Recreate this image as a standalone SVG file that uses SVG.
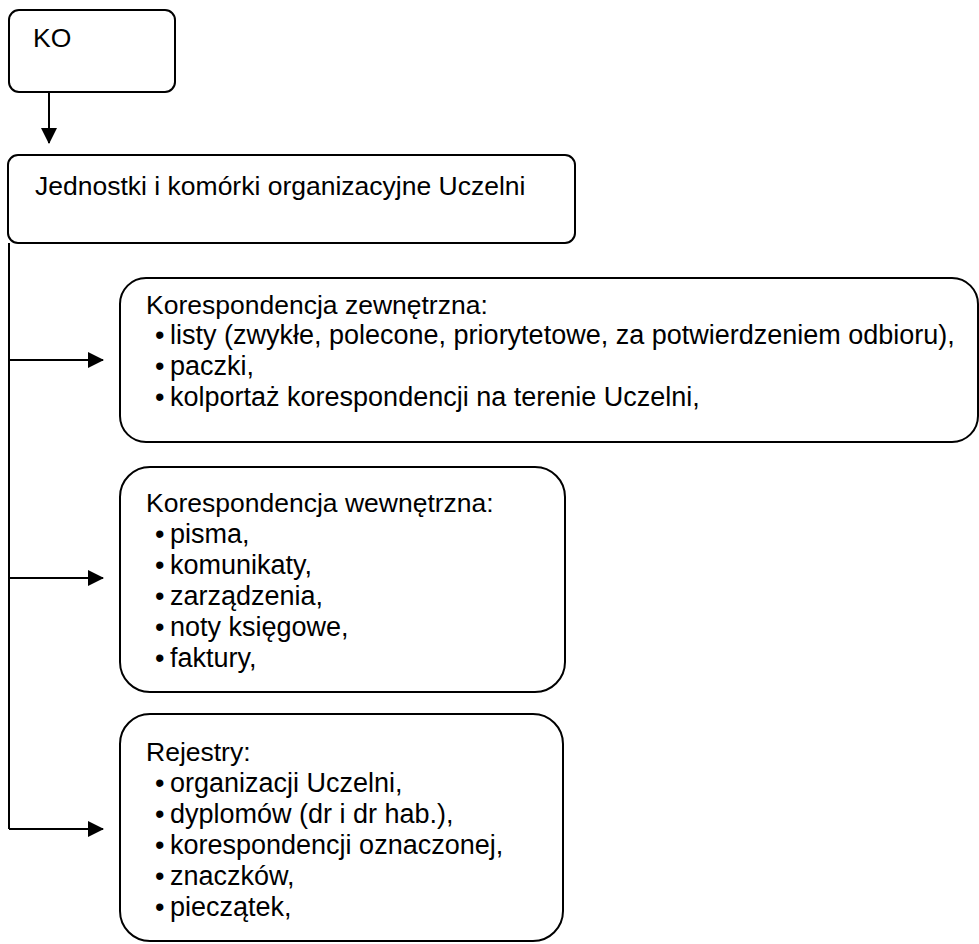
<svg xmlns="http://www.w3.org/2000/svg" width="979" height="944" viewBox="0 0 979 944">
<style>
.box{fill:#fff;stroke:#000;stroke-width:2}
.t{font-family:"Liberation Sans",Arial,sans-serif;font-size:26.5px;fill:#000}
.b{font-family:"Liberation Sans",Arial,sans-serif;font-size:27px;fill:#000}
.ln{fill:none;stroke:#000;stroke-width:2}
</style>
<defs>
<marker id="ah" markerWidth="16" markerHeight="16" refX="15" refY="8" orient="auto" markerUnits="userSpaceOnUse">
<path d="M0,0 L16,8 L0,16 Z" fill="#000"/>
</marker>
</defs>
<g id="connectors">
<line class="ln" x1="49" y1="92" x2="49" y2="143" marker-end="url(#ah)"/>
<path class="ln" d="M9,243 L9,829"/>
<line class="ln" x1="9" y1="360" x2="103" y2="360" marker-end="url(#ah)"/>
<line class="ln" x1="9" y1="578" x2="103" y2="578" marker-end="url(#ah)"/>
<line class="ln" x1="9" y1="829" x2="103" y2="829" marker-end="url(#ah)"/>
</g>
<g id="ko">
<rect class="box" x="9" y="10" width="166" height="82" rx="10"/>
<text class="t" x="33" y="47">KO</text>
</g>
<g id="jednostki">
<rect class="box" x="8" y="155" width="567" height="88" rx="10"/>
<text class="t" x="35" y="195">Jednostki i komórki organizacyjne Uczelni</text>
</g>
<g id="zewnetrzna">
<rect class="box" x="120" y="278" width="858" height="164" rx="26"/>
<text class="t" x="146" y="314">Korespondencja zewnętrzna:</text>
<text class="b"><tspan x="155" y="344">•</tspan><tspan x="170">listy (zwykłe, polecone, priorytetowe, za potwierdzeniem odbioru),</tspan></text>
<text class="b"><tspan x="155" y="375">•</tspan><tspan x="170">paczki,</tspan></text>
<text class="b"><tspan x="155" y="406">•</tspan><tspan x="170">kolportaż korespondencji na terenie Uczelni,</tspan></text>
</g>
<g id="wewnetrzna">
<rect class="box" x="120" y="467" width="445" height="225" rx="30"/>
<text class="t" x="146" y="512">Korespondencja wewnętrzna:</text>
<text class="b"><tspan x="155" y="543">•</tspan><tspan x="170">pisma,</tspan></text>
<text class="b"><tspan x="155" y="574">•</tspan><tspan x="170">komunikaty,</tspan></text>
<text class="b"><tspan x="155" y="605">•</tspan><tspan x="170">zarządzenia,</tspan></text>
<text class="b"><tspan x="155" y="636">•</tspan><tspan x="170">noty księgowe,</tspan></text>
<text class="b"><tspan x="155" y="667">•</tspan><tspan x="170">faktury,</tspan></text>
</g>
<g id="rejestry">
<rect class="box" x="120" y="714" width="443" height="227" rx="30"/>
<text class="t" x="146" y="761">Rejestry:</text>
<text class="b"><tspan x="155" y="792">•</tspan><tspan x="170">organizacji Uczelni,</tspan></text>
<text class="b"><tspan x="155" y="823">•</tspan><tspan x="170">dyplomów (dr i dr hab.),</tspan></text>
<text class="b"><tspan x="155" y="854">•</tspan><tspan x="170">korespondencji oznaczonej,</tspan></text>
<text class="b"><tspan x="155" y="885">•</tspan><tspan x="170">znaczków,</tspan></text>
<text class="b"><tspan x="155" y="916">•</tspan><tspan x="170">pieczątek,</tspan></text>
</g>
</svg>
